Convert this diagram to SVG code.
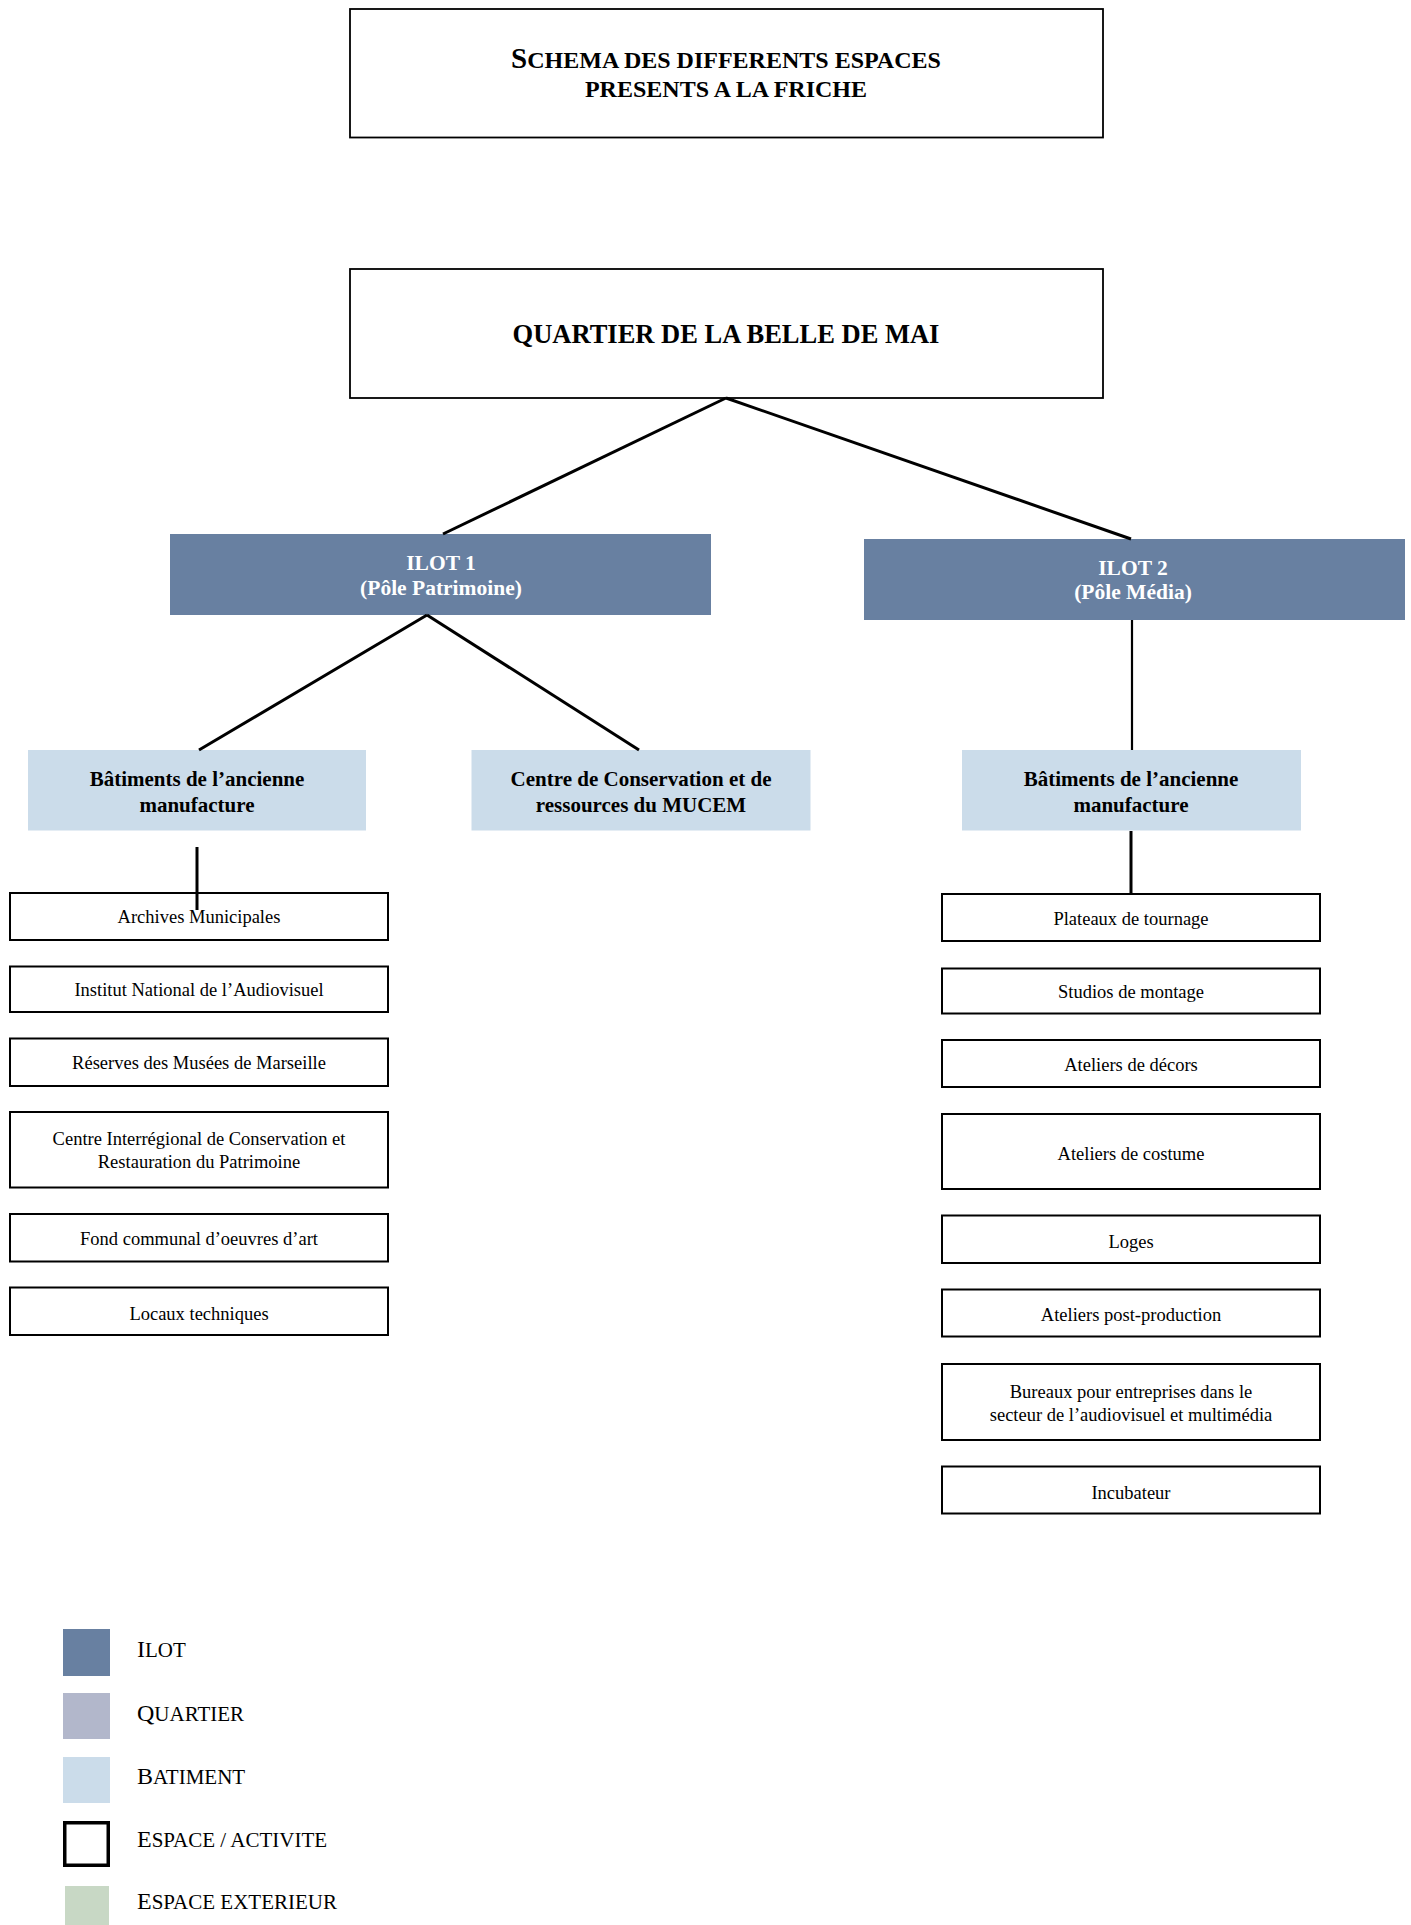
<svg xmlns="http://www.w3.org/2000/svg" width="1411" height="1925" viewBox="0 0 1411 1925">
<style>
.bg{fill:#ffffff}
.frame{fill:#ffffff;stroke:#000;stroke-width:1.8}
.ilot{fill:#6880a1}
.bat{fill:#cbdcea}
.esp{fill:#ffffff;stroke:#000;stroke-width:2}
.t{font-family:"Liberation Serif","Times New Roman",serif;text-anchor:middle;fill:#000}
.hb{font-weight:bold}
.tw{fill:#ffffff;font-weight:bold;font-size:21.5px}
.tb{font-weight:bold;font-size:21px}
.ts{font-size:18.5px}
.lg{font-family:"Liberation Serif","Times New Roman",serif;font-size:21px;fill:#000}
.lg .c{font-size:24px}
.con line{stroke:#000;stroke-width:3;fill:none}
</style>
<rect class="bg" x="0" y="0" width="1411" height="1925"/>

<g id="title">
<rect class="frame" x="350" y="9" width="753" height="128.5"/>
<text class="t hb" x="726" y="68" font-size="24"><tspan font-size="29">S</tspan>CHEMA DES DIFFERENTS ESPACES</text>
<text class="t hb" x="726" y="97" font-size="24">PRESENTS A LA FRICHE</text>
</g>

<g id="quartier">
<rect class="frame" x="350" y="269" width="753" height="129"/>
<text class="t hb" x="726" y="343" font-size="26.5">QUARTIER DE LA BELLE DE MAI</text>
</g>

<g id="ilot1">
<rect class="ilot" x="170" y="534" width="541" height="81"/>
<text class="t tw" x="441" y="570">ILOT 1</text>
<text class="t tw" x="441" y="595">(Pôle Patrimoine)</text>
</g>

<g id="ilot2">
<rect class="ilot" x="864" y="539" width="541" height="81"/>
<text class="t tw" x="1133" y="575">ILOT 2</text>
<text class="t tw" x="1133" y="599">(Pôle Média)</text>
</g>

<g id="bat1">
<rect class="bat" x="28" y="750" width="338" height="80.5"/>
<text class="t tb" x="197" y="786">Bâtiments de l’ancienne</text>
<text class="t tb" x="197" y="812">manufacture</text>
</g>

<g id="mucem">
<rect class="bat" x="471.5" y="750" width="339" height="80.5"/>
<text class="t tb" x="641" y="786">Centre de Conservation et de</text>
<text class="t tb" x="641" y="812">ressources du MUCEM</text>
</g>

<g id="bat2">
<rect class="bat" x="962" y="750" width="339" height="80.5"/>
<text class="t tb" x="1131" y="786">Bâtiments de l’ancienne</text>
<text class="t tb" x="1131" y="812">manufacture</text>
</g>

<g id="archives">
<rect class="esp" x="10" y="893" width="378" height="47"/>
<text class="t ts" x="199" y="923">Archives Municipales</text>
</g>
<g id="ina">
<rect class="esp" x="10" y="966.5" width="378" height="45.5"/>
<text class="t ts" x="199" y="996">Institut National de l’Audiovisuel</text>
</g>
<g id="reserves">
<rect class="esp" x="10" y="1038.5" width="378" height="47.5"/>
<text class="t ts" x="199" y="1069">Réserves des Musées de Marseille</text>
</g>
<g id="cicrp">
<rect class="esp" x="10" y="1112" width="378" height="75.5"/>
<text class="t ts" x="199" y="1145">Centre Interrégional de Conservation et</text>
<text class="t ts" x="199" y="1168">Restauration du Patrimoine</text>
</g>
<g id="fond">
<rect class="esp" x="10" y="1214" width="378" height="47.5"/>
<text class="t ts" x="199" y="1245">Fond communal d’oeuvres d’art</text>
</g>
<g id="locaux">
<rect class="esp" x="10" y="1287.5" width="378" height="47.5"/>
<text class="t ts" x="199" y="1320">Locaux techniques</text>
</g>

<g id="plateaux">
<rect class="esp" x="942" y="894" width="378" height="47"/>
<text class="t ts" x="1131" y="925">Plateaux de tournage</text>
</g>
<g id="studios">
<rect class="esp" x="942" y="968.5" width="378" height="45"/>
<text class="t ts" x="1131" y="998">Studios de montage</text>
</g>
<g id="decors">
<rect class="esp" x="942" y="1040" width="378" height="47"/>
<text class="t ts" x="1131" y="1071">Ateliers de décors</text>
</g>
<g id="costume">
<rect class="esp" x="942" y="1114" width="378" height="75"/>
<text class="t ts" x="1131" y="1160">Ateliers de costume</text>
</g>
<g id="loges">
<rect class="esp" x="942" y="1215.5" width="378" height="47.5"/>
<text class="t ts" x="1131" y="1247.5">Loges</text>
</g>
<g id="postprod">
<rect class="esp" x="942" y="1289.5" width="378" height="47"/>
<text class="t ts" x="1131" y="1321">Ateliers post-production</text>
</g>
<g id="bureaux">
<rect class="esp" x="942" y="1364" width="378" height="76"/>
<text class="t ts" x="1131" y="1398">Bureaux pour entreprises dans le</text>
<text class="t ts" x="1131" y="1421">secteur de l’audiovisuel et multimédia</text>
</g>
<g id="incubateur">
<rect class="esp" x="942" y="1466.5" width="378" height="47"/>
<text class="t ts" x="1131" y="1499">Incubateur</text>
</g>

<g class="con" id="connectors">
<line x1="726" y1="398" x2="443" y2="534"/>
<line x1="726" y1="398" x2="1131" y2="539"/>
<line x1="427" y1="615" x2="199" y2="750"/>
<line x1="427" y1="615" x2="639" y2="750"/>
<line x1="1132" y1="620" x2="1132" y2="750" style="stroke-width:2.2"/>
<line x1="197" y1="847" x2="197" y2="910"/>
<line x1="1131" y1="831" x2="1131" y2="894"/>
</g>

<g id="legend">
<rect fill="#6880a1" x="63" y="1629" width="47" height="47"/>
<text class="lg" x="137" y="1657"><tspan class="c">I</tspan>LOT</text>
<rect fill="#b2b7cb" x="63" y="1693" width="47" height="46"/>
<text class="lg" x="137" y="1721"><tspan class="c">Q</tspan>UARTIER</text>
<rect fill="#cbdcea" x="63" y="1757" width="47" height="46"/>
<text class="lg" x="137" y="1784"><tspan class="c">B</tspan>ATIMENT</text>
<rect fill="#ffffff" stroke="#000" stroke-width="3.5" x="64.75" y="1822.75" width="43.5" height="42.5"/>
<text class="lg" x="137" y="1847"><tspan class="c">E</tspan>SPACE / ACTIVITE</text>
<rect fill="#c8d8c5" x="65" y="1886" width="44" height="39"/>
<text class="lg" x="137" y="1909"><tspan class="c">E</tspan>SPACE EXTERIEUR</text>
</g>
</svg>
